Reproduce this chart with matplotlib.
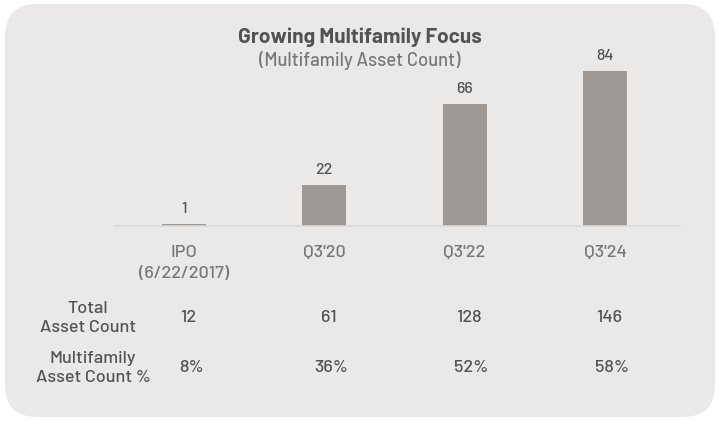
import matplotlib
matplotlib.use("Agg")
import matplotlib.pyplot as plt
from matplotlib.patches import FancyBboxPatch
from matplotlib.transforms import blended_transform_factory
from matplotlib import font_manager

categories = ["IPO\n(6/22/2017)", "Q3'20", "Q3'22", "Q3'24"]
mf_counts = [1, 22, 66, 84]
total_counts = ["12", "61", "128", "146"]
mf_pct = ["8%", "36%", "52%", "58%"]
row_labels = ["Total\nAsset Count", "Multifamily\nAsset Count %"]
title = "Growing Multifamily Focus"
subtitle = "(Multifamily Asset Count)"

avail = {f.name for f in font_manager.fontManager.ttflist}
prefs = ["Barlow", "Barlow Semi Condensed", "Roboto Condensed", "DejaVu Sans"]
fam = [p for p in prefs if p in avail][0]
plt.rcParams["font.family"] = [fam, "DejaVu Sans"]
plt.rcParams["font.weight"] = 500

W, H = 719, 421
fig = plt.figure(figsize=(W / 100, H / 100), dpi=100)
fig.patch.set_facecolor("white")

panel_col = "#ebe9e7"
bar_col = "#9d9893"
text_col = "#555251"
light_text = "#797674"

panel = FancyBboxPatch((5 / W, 4 / H), 710 / W, 413 / H,
                       boxstyle="round,pad=0,rounding_size=0.045",
                       transform=fig.transFigure, facecolor=panel_col,
                       edgecolor="none", mutation_aspect=W / H, zorder=-5)
fig.patches.append(panel)

ax_left, ax_right = 115, 680
base_y = 226
ppu = 1.845
ymax = 100
ax = fig.add_axes([ax_left / W, (H - base_y) / H, (ax_right - ax_left) / W, ymax * ppu / H])
ax.set_zorder(2)
ax.set_facecolor("none")
spacing = 140.3
ax.set_xlim((ax_left - 184) / spacing, (ax_right - 184) / spacing)
ax.set_ylim(0, ymax)

x = list(range(len(categories)))
ax.bar(x, mf_counts, width=0.314, color=bar_col, zorder=2)
for xi, v in zip(x, mf_counts):
    ax.annotate(str(v), (xi, v), xytext=(0, 6), textcoords="offset points",
                ha="center", va="bottom", fontsize=11.5, color=text_col)

for s in ["top", "right", "left"]:
    ax.spines[s].set_visible(False)
ax.spines["bottom"].set_color("#dcdad8")
ax.spines["bottom"].set_linewidth(1.2)
ax.set_yticks([])
ax.set_xticks(x)
ax.set_xticklabels(categories, fontsize=13, color=light_text, linespacing=1.45)
ax.tick_params(axis="x", length=0, pad=14)

fig.text(360 / W, 1 - 37 / H, title, ha="center", va="center",
         fontsize=15, fontweight="bold", color=text_col)
fig.text(360 / W, 1 - 60 / H, subtitle, ha="center", va="center",
         fontsize=13.3, color=light_text)

tr = blended_transform_factory(ax.transData, fig.transFigure)
row_y = [1 - 318 / H, 1 - 368 / H]
for xi, t in zip(x, total_counts):
    ax.text(xi + 0.03, row_y[0], t, transform=tr, ha="center", va="center",
            fontsize=13, color=text_col)
for xi, t in zip(x, mf_pct):
    ax.text(xi + 0.05, row_y[1], t, transform=tr, ha="center", va="center",
            fontsize=13, color=text_col)
row_lab_x = [88, 93]
for lx, ly, lab in zip(row_lab_x, row_y, row_labels):
    fig.text(lx / W, ly, lab, ha="center", va="center", fontsize=13,
             color=text_col, linespacing=1.4)

fig.savefig("out.png", dpi=100, facecolor="white")
